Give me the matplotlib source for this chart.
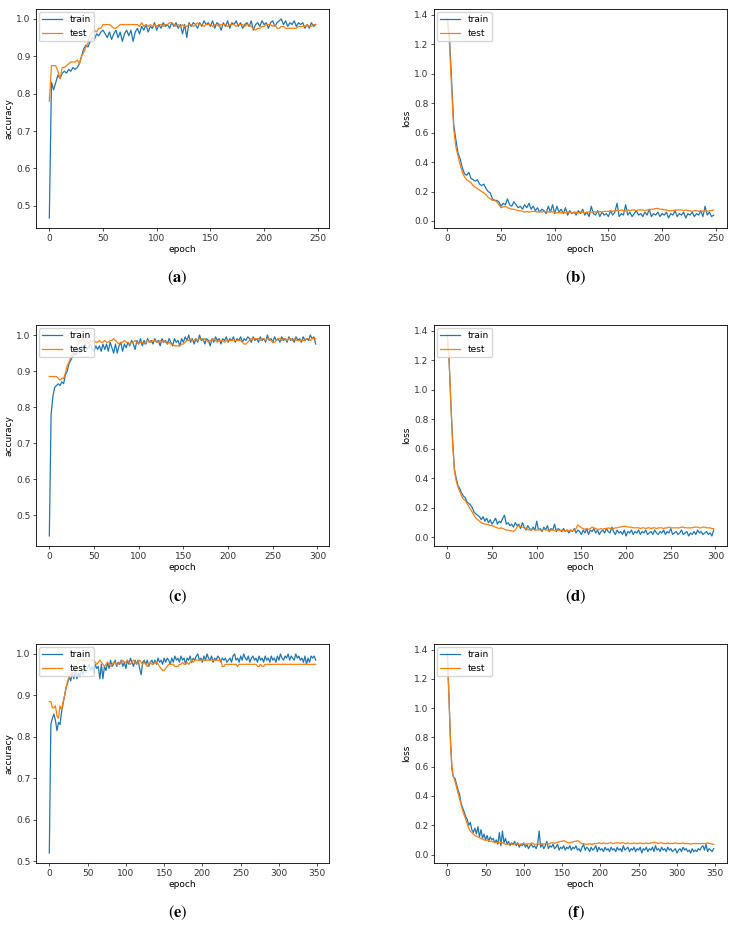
import numpy as np
import matplotlib
matplotlib.use("Agg")
import matplotlib.pyplot as plt

matplotlib.rcParams['font.size'] = 6.5
matplotlib.rcParams['axes.linewidth'] = 0.6
matplotlib.rcParams['xtick.major.width'] = 0.6
matplotlib.rcParams['ytick.major.width'] = 0.6
matplotlib.rcParams['xtick.major.size'] = 2.5
matplotlib.rcParams['ytick.major.size'] = 2.5
matplotlib.rcParams['mathtext.fontset'] = 'stix'

# values read every 2 epochs
acc_train_250 = [
    0.467, 0.83, 0.81, 0.83, 0.85, 0.84, 0.855, 0.86, 0.855, 0.865,
    0.86, 0.87, 0.865, 0.87, 0.88, 0.90, 0.92, 0.93, 0.925, 0.94,
    0.95, 0.945, 0.96, 0.955, 0.965, 0.97, 0.96, 0.95, 0.965, 0.945,
    0.96, 0.97, 0.95, 0.965, 0.94, 0.96, 0.97, 0.955, 0.97, 0.94,
    0.965, 0.975, 0.96, 0.98, 0.97, 0.985, 0.965, 0.98, 0.975, 0.99,
    0.97, 0.985, 0.975, 0.99, 0.98, 0.985, 0.975, 0.99, 0.98, 0.99,
    0.975, 0.985, 0.96, 0.985, 0.95, 0.99, 0.98, 0.99, 0.985, 0.975,
    0.99, 0.98, 0.995, 0.985, 0.99, 0.98, 0.995, 0.975, 0.99, 0.985,
    0.97, 0.99, 0.98, 0.995, 0.975, 0.99, 0.985, 0.995, 0.98, 0.99,
    0.975, 0.985, 0.99, 0.98, 0.995, 0.97, 0.985, 0.99, 0.98, 0.995,
    0.985, 0.99, 0.975, 0.99, 0.995, 0.98, 0.99, 0.995, 1.0, 0.985,
    0.995, 0.98, 0.99, 0.985, 0.995, 0.98, 0.99, 0.985, 0.99, 0.975,
    0.985, 0.975, 0.99, 0.98, 0.985]
acc_test_250 = [
    0.78, 0.875, 0.875, 0.875, 0.86, 0.84, 0.87, 0.87, 0.875, 0.88,
    0.885, 0.885, 0.885, 0.89, 0.88, 0.90, 0.91, 0.925, 0.935, 0.96,
    0.965, 0.97, 0.965, 0.975, 0.975, 0.985, 0.985, 0.985, 0.985, 0.98,
    0.975, 0.975, 0.98, 0.985, 0.985, 0.985, 0.985, 0.985, 0.985, 0.985,
    0.985, 0.985, 0.98, 0.99, 0.98, 0.985, 0.98, 0.985, 0.98, 0.985,
    0.98, 0.985, 0.985, 0.98, 0.985, 0.985, 0.99, 0.99, 0.985, 0.98,
    0.985, 0.98, 0.985, 0.98, 0.98, 0.985, 0.985, 0.98, 0.985, 0.99,
    0.985, 0.985, 0.98, 0.985, 0.985, 0.985, 0.98, 0.985, 0.985, 0.98,
    0.985, 0.985, 0.985, 0.98, 0.985, 0.985, 0.985, 0.98, 0.985, 0.985,
    0.985, 0.98, 0.985, 0.985, 0.98, 0.975, 0.97, 0.975, 0.975, 0.98,
    0.98, 0.985, 0.985, 0.985, 0.98, 0.985, 0.975, 0.975, 0.98, 0.98,
    0.975, 0.975, 0.975, 0.975, 0.975, 0.975, 0.98, 0.98, 0.98, 0.98,
    0.985, 0.98, 0.98, 0.985, 0.985]
loss_train_250 = [
    1.37, 1.25, 0.95, 0.65, 0.55, 0.46, 0.42, 0.36, 0.32, 0.31,
    0.33, 0.29, 0.28, 0.27, 0.28, 0.25, 0.24, 0.25, 0.22, 0.20,
    0.19, 0.15, 0.14, 0.14, 0.13, 0.10, 0.12, 0.11, 0.15, 0.11,
    0.10, 0.13, 0.11, 0.09, 0.10, 0.08, 0.11, 0.09, 0.12, 0.08,
    0.10, 0.07, 0.09, 0.06, 0.08, 0.07, 0.05, 0.10, 0.06, 0.11,
    0.05, 0.10, 0.06, 0.08, 0.05, 0.09, 0.04, 0.07, 0.05, 0.06,
    0.04, 0.07, 0.05, 0.08, 0.04, 0.06, 0.03, 0.10, 0.05, 0.04,
    0.07, 0.03, 0.06, 0.04, 0.05, 0.03, 0.07, 0.04, 0.06, 0.12,
    0.03, 0.05, 0.04, 0.11, 0.04, 0.06, 0.03, 0.05, 0.07, 0.04,
    0.05, 0.03, 0.06, 0.04, 0.08, 0.03, 0.05, 0.04, 0.06, 0.03,
    0.05, 0.04, 0.06, 0.02, 0.05, 0.04, 0.07, 0.03, 0.05, 0.04,
    0.06, 0.02, 0.05, 0.04, 0.06, 0.03, 0.05, 0.04, 0.07, 0.03,
    0.10, 0.04, 0.06, 0.03, 0.04]
loss_test_250 = [
    1.37, 1.20, 0.90, 0.62, 0.50, 0.44, 0.38, 0.33, 0.30, 0.28,
    0.27, 0.26, 0.24, 0.23, 0.22, 0.21, 0.20, 0.19, 0.18, 0.16,
    0.15, 0.14, 0.14, 0.13, 0.11, 0.09, 0.095, 0.10, 0.09, 0.085,
    0.08, 0.08, 0.075, 0.07, 0.07, 0.065, 0.06, 0.065, 0.06, 0.065,
    0.065, 0.065, 0.06, 0.065, 0.06, 0.065, 0.06, 0.06, 0.065, 0.06,
    0.06, 0.055, 0.06, 0.055, 0.06, 0.055, 0.06, 0.06, 0.055, 0.06,
    0.06, 0.055, 0.06, 0.06, 0.055, 0.06, 0.06, 0.06, 0.065, 0.06,
    0.06, 0.065, 0.06, 0.065, 0.065, 0.065, 0.07, 0.065, 0.07, 0.07,
    0.07, 0.075, 0.07, 0.07, 0.075, 0.07, 0.075, 0.075, 0.07, 0.075,
    0.075, 0.075, 0.07, 0.075, 0.075, 0.08, 0.08, 0.085, 0.085, 0.08,
    0.08, 0.075, 0.075, 0.07, 0.07, 0.07, 0.075, 0.075, 0.075, 0.075,
    0.07, 0.075, 0.07, 0.07, 0.065, 0.07, 0.07, 0.065, 0.07, 0.065,
    0.07, 0.065, 0.07, 0.07, 0.075]

acc_train_300 = [
    0.443, 0.78, 0.83, 0.855, 0.86, 0.865, 0.86, 0.87, 0.865, 0.89,
    0.90, 0.92, 0.93, 0.94, 0.95, 0.945, 0.96, 0.95, 0.97, 0.96,
    0.975, 0.96, 0.965, 0.975, 0.96, 0.955, 0.97, 0.96, 0.97, 0.955,
    0.975, 0.96, 0.975, 0.955, 0.98, 0.965, 0.95, 0.975, 0.95, 0.97,
    0.98, 0.955, 0.975, 0.965, 0.98, 0.97, 0.985, 0.975, 0.96, 0.985,
    0.975, 0.99, 0.97, 0.985, 0.975, 0.99, 0.98, 0.985, 0.975, 0.99,
    0.98, 0.985, 0.97, 0.99, 0.98, 0.985, 0.975, 0.99, 0.98, 0.97,
    0.99, 0.98, 0.985, 0.97, 0.99, 0.98, 0.995, 0.985, 1.0, 0.98,
    0.99, 0.975, 0.99, 0.98, 1.0, 0.985, 0.99, 0.975, 0.99, 0.985,
    0.97, 0.99, 0.98, 0.995, 0.985, 0.99, 0.975, 0.99, 0.985, 0.995,
    0.98, 0.99, 0.985, 0.995, 0.98, 0.99, 0.985, 0.995, 0.98, 0.99,
    0.985, 0.995, 0.99, 0.98, 0.995, 0.985, 0.99, 0.98, 0.995, 0.985,
    0.99, 0.98, 1.0, 0.985, 0.99, 0.98, 0.995, 0.985, 0.99, 0.98,
    0.995, 0.985, 0.99, 0.98, 0.995, 0.985, 0.99, 0.98, 0.995, 0.985,
    0.99, 0.98, 0.995, 0.985, 0.99, 0.985, 1.0, 0.99, 0.995, 0.975]
acc_test_300 = [
    0.885, 0.885, 0.885, 0.885, 0.885, 0.88, 0.875, 0.88, 0.88, 0.895,
    0.915, 0.925, 0.94, 0.95, 0.955, 0.965, 0.975, 0.985, 0.985, 0.99,
    0.98, 0.985, 0.975, 0.985, 0.98, 0.985, 0.98, 0.98, 0.985, 0.98,
    0.98, 0.985, 0.98, 0.98, 0.985, 0.985, 0.99, 0.985, 0.98, 0.975,
    0.98, 0.98, 0.985, 0.98, 0.98, 0.975, 0.98, 0.98, 0.985, 0.98,
    0.975, 0.98, 0.98, 0.975, 0.98, 0.985, 0.98, 0.98, 0.985, 0.985,
    0.98, 0.98, 0.985, 0.98, 0.985, 0.98, 0.975, 0.98, 0.975, 0.975,
    0.97, 0.97, 0.97, 0.97, 0.975, 0.975, 0.98, 0.985, 0.985, 0.99,
    0.985, 0.985, 0.99, 0.985, 0.99, 0.99, 0.985, 0.99, 0.985, 0.98,
    0.985, 0.985, 0.99, 0.985, 0.98, 0.985, 0.985, 0.985, 0.98, 0.985,
    0.985, 0.985, 0.985, 0.985, 0.985, 0.985, 0.985, 0.985, 0.98, 0.975,
    0.975, 0.98, 0.985, 0.99, 0.99, 0.99, 0.99, 0.99, 0.985, 0.99,
    0.99, 0.985, 0.99, 0.99, 0.985, 0.98, 0.98, 0.985, 0.99, 0.99,
    0.985, 0.99, 0.99, 0.985, 0.99, 0.99, 0.985, 0.99, 0.985, 0.985,
    0.985, 0.985, 0.985, 0.985, 0.99, 0.99, 0.985, 0.99, 0.99, 0.99]
loss_train_300 = [
    1.37, 1.2, 0.9, 0.65, 0.46, 0.40, 0.35, 0.33, 0.30, 0.28,
    0.27, 0.24, 0.23, 0.22, 0.20, 0.17, 0.16, 0.15, 0.14, 0.12,
    0.14, 0.11, 0.13, 0.10, 0.12, 0.09, 0.11, 0.13, 0.09, 0.11,
    0.10, 0.13, 0.15, 0.09, 0.10, 0.08, 0.09, 0.07, 0.10, 0.08,
    0.09, 0.06, 0.10, 0.07, 0.05, 0.08, 0.06, 0.05, 0.07, 0.05,
    0.11, 0.05, 0.06, 0.04, 0.07, 0.05, 0.08, 0.04, 0.06, 0.05,
    0.09, 0.04, 0.06, 0.05, 0.04, 0.06, 0.04, 0.05, 0.03, 0.05,
    0.04, 0.06, 0.03, 0.05, 0.04, 0.02, 0.05, 0.03, 0.06, 0.02,
    0.05, 0.04, 0.06, 0.03, 0.05, 0.02, 0.04, 0.05, 0.03, 0.06,
    0.04, 0.03, 0.07, 0.04, 0.02, 0.05, 0.03, 0.04, 0.02, 0.05,
    0.01, 0.04, 0.03, 0.05, 0.02, 0.04, 0.03, 0.05, 0.02, 0.04,
    0.03, 0.05, 0.02, 0.03, 0.04, 0.02, 0.05, 0.03, 0.02, 0.04,
    0.03, 0.05, 0.02, 0.04, 0.03, 0.06, 0.02, 0.03, 0.04, 0.02,
    0.03, 0.05, 0.02, 0.03, 0.04, 0.01, 0.03, 0.02, 0.04, 0.02,
    0.05, 0.03, 0.04, 0.02, 0.03, 0.04, 0.02, 0.03, 0.01, 0.05]
loss_test_300 = [
    1.37, 1.2, 0.9, 0.62, 0.45, 0.38, 0.34, 0.31, 0.28, 0.26,
    0.25, 0.23, 0.21, 0.19, 0.17, 0.15, 0.13, 0.12, 0.11, 0.10,
    0.095, 0.09, 0.09, 0.085, 0.08, 0.08, 0.075, 0.07, 0.065, 0.06,
    0.065, 0.06, 0.055, 0.05, 0.05, 0.045, 0.045, 0.04, 0.05, 0.07,
    0.08, 0.075, 0.07, 0.065, 0.06, 0.055, 0.05, 0.05, 0.055, 0.05,
    0.05, 0.055, 0.05, 0.05, 0.055, 0.05, 0.05, 0.045, 0.05, 0.05,
    0.045, 0.05, 0.05, 0.045, 0.05, 0.045, 0.045, 0.05, 0.045, 0.05,
    0.045, 0.05, 0.06, 0.085, 0.075, 0.065, 0.06, 0.055, 0.06, 0.055,
    0.06, 0.07, 0.065, 0.06, 0.055, 0.055, 0.06, 0.055, 0.06, 0.06,
    0.065, 0.06, 0.065, 0.06, 0.065, 0.065, 0.07, 0.07, 0.075, 0.075,
    0.075, 0.07, 0.07, 0.07, 0.065, 0.065, 0.065, 0.065, 0.06, 0.065,
    0.065, 0.06, 0.065, 0.065, 0.06, 0.065, 0.065, 0.06, 0.065, 0.065,
    0.065, 0.06, 0.065, 0.065, 0.07, 0.065, 0.065, 0.065, 0.065, 0.065,
    0.065, 0.07, 0.07, 0.065, 0.065, 0.065, 0.065, 0.065, 0.07, 0.07,
    0.07, 0.065, 0.065, 0.07, 0.07, 0.065, 0.065, 0.065, 0.06, 0.06]

acc_train_350 = [
    0.52, 0.83, 0.845, 0.855, 0.84, 0.815, 0.835, 0.83, 0.86, 0.88,
    0.90, 0.92, 0.93, 0.945, 0.935, 0.955, 0.94, 0.96, 0.94, 0.955,
    0.945, 0.965, 0.95, 0.97, 0.955, 0.965, 0.975, 0.96, 0.97, 0.955,
    0.975, 0.965, 0.97, 0.94, 0.975, 0.94, 0.97, 0.96, 0.98, 0.965,
    0.985, 0.97, 0.975, 0.985, 0.97, 0.98, 0.975, 0.985, 0.97, 0.98,
    0.965, 0.985, 0.975, 0.99, 0.98, 0.97, 0.985, 0.975, 0.985, 0.965,
    0.95, 0.98, 0.985, 0.975, 0.985, 0.97, 0.98, 0.985, 0.975, 0.985,
    0.975, 0.99, 0.98, 0.985, 0.975, 0.99, 0.98, 0.99, 0.985, 0.975,
    0.99, 0.98, 0.995, 0.985, 0.99, 0.98, 0.995, 0.985, 0.99, 0.975,
    0.99, 0.985, 0.995, 0.98, 0.99, 0.985, 0.995, 1.0, 0.985, 0.99,
    0.98, 0.995, 0.985, 1.0, 0.99, 0.985, 0.995, 0.98, 0.99, 0.985,
    0.995, 0.99, 0.98, 0.99, 0.985, 0.99, 0.98, 0.985, 0.99, 0.98,
    0.995, 1.0, 0.985, 0.99, 0.98, 0.995, 0.985, 1.0, 0.99, 0.985,
    0.995, 0.98, 0.99, 0.995, 0.985, 0.99, 0.98, 0.995, 0.985, 0.99,
    0.98, 0.995, 0.985, 0.99, 0.98, 0.995, 0.985, 0.99, 0.98, 0.995,
    0.985, 1.0, 0.99, 0.985, 0.995, 0.99, 1.0, 0.985, 0.995, 0.99,
    0.985, 1.0, 0.99, 0.995, 0.985, 0.99, 0.98, 0.995, 0.975, 0.99,
    0.98, 0.995, 0.99, 0.995, 0.985]
acc_test_350 = [
    0.885, 0.885, 0.87, 0.87, 0.875, 0.85, 0.845, 0.875, 0.865, 0.885,
    0.90, 0.92, 0.935, 0.945, 0.95, 0.955, 0.955, 0.96, 0.975, 0.985,
    0.985, 0.985, 0.985, 0.985, 0.985, 0.985, 0.985, 0.985, 0.985, 0.985,
    0.98, 0.975, 0.98, 0.985, 0.98, 0.975, 0.97, 0.975, 0.98, 0.975,
    0.97, 0.975, 0.98, 0.98, 0.975, 0.975, 0.98, 0.98, 0.985, 0.98,
    0.98, 0.985, 0.98, 0.975, 0.98, 0.985, 0.98, 0.975, 0.98, 0.985,
    0.98, 0.975, 0.98, 0.975, 0.97, 0.975, 0.98, 0.975, 0.975, 0.98,
    0.98, 0.975, 0.97, 0.965, 0.96, 0.96, 0.965, 0.97, 0.975, 0.975,
    0.975, 0.975, 0.97, 0.97, 0.97, 0.975, 0.975, 0.98, 0.975, 0.975,
    0.98, 0.975, 0.98, 0.985, 0.98, 0.985, 0.985, 0.985, 0.985, 0.985,
    0.985, 0.985, 0.985, 0.985, 0.985, 0.985, 0.985, 0.985, 0.985, 0.985,
    0.985, 0.985, 0.985, 0.97, 0.97, 0.975, 0.975, 0.975, 0.975, 0.975,
    0.975, 0.975, 0.975, 0.97, 0.975, 0.975, 0.975, 0.975, 0.975, 0.975,
    0.975, 0.975, 0.975, 0.975, 0.975, 0.975, 0.97, 0.97, 0.975, 0.97,
    0.97, 0.975, 0.975, 0.975, 0.975, 0.975, 0.975, 0.975, 0.975, 0.975,
    0.975, 0.975, 0.975, 0.975, 0.975, 0.975, 0.975, 0.975, 0.975, 0.975,
    0.975, 0.975, 0.975, 0.975, 0.975, 0.975, 0.975, 0.975, 0.975, 0.975,
    0.975, 0.975, 0.975, 0.975, 0.975]
loss_train_350 = [
    1.37, 1.1, 0.8, 0.58, 0.53, 0.52, 0.48, 0.44, 0.41, 0.35,
    0.32, 0.29, 0.26, 0.24, 0.20, 0.22, 0.17, 0.15, 0.18, 0.14,
    0.19, 0.12, 0.17, 0.11, 0.14, 0.10, 0.13, 0.09, 0.12, 0.10,
    0.11, 0.08, 0.10, 0.07, 0.15, 0.06, 0.16, 0.08, 0.11, 0.07,
    0.09, 0.06, 0.08, 0.07, 0.09, 0.06, 0.08, 0.05, 0.07, 0.06,
    0.08, 0.05, 0.07, 0.04, 0.06, 0.07, 0.05, 0.06, 0.04, 0.07,
    0.16, 0.05, 0.07, 0.04, 0.06, 0.09, 0.04, 0.06, 0.05, 0.07,
    0.04, 0.05, 0.07, 0.03, 0.05, 0.04, 0.06, 0.03, 0.05, 0.04,
    0.06, 0.03, 0.05, 0.04, 0.06, 0.03, 0.04, 0.02, 0.05, 0.07,
    0.03, 0.05, 0.04, 0.02, 0.05, 0.03, 0.04, 0.06, 0.02, 0.05,
    0.03, 0.04, 0.02, 0.05, 0.03, 0.04, 0.02, 0.05, 0.03, 0.04,
    0.02, 0.05, 0.03, 0.04, 0.02, 0.06, 0.03, 0.04, 0.05, 0.02,
    0.04, 0.03, 0.05, 0.02, 0.04, 0.03, 0.05, 0.01, 0.04, 0.03,
    0.05, 0.02, 0.04, 0.03, 0.05, 0.02, 0.06, 0.03, 0.04, 0.02,
    0.05, 0.03, 0.04, 0.02, 0.05, 0.03, 0.04, 0.02, 0.03, 0.04,
    0.01, 0.03, 0.04, 0.02, 0.05, 0.03, 0.04, 0.02, 0.03, 0.01,
    0.04, 0.02, 0.03, 0.02, 0.04, 0.03, 0.05, 0.06, 0.03, 0.07,
    0.02, 0.04, 0.03, 0.02, 0.04]
loss_test_350 = [
    1.37, 1.1, 0.78, 0.6, 0.53, 0.50, 0.46, 0.42, 0.38, 0.34,
    0.30, 0.27, 0.24, 0.21, 0.18, 0.16, 0.15, 0.14, 0.13, 0.125,
    0.12, 0.115, 0.11, 0.105, 0.10, 0.095, 0.10, 0.095, 0.09, 0.09,
    0.085, 0.085, 0.08, 0.08, 0.08, 0.085, 0.08, 0.075, 0.07, 0.07,
    0.07, 0.075, 0.07, 0.07, 0.07, 0.075, 0.07, 0.07, 0.07, 0.075,
    0.075, 0.07, 0.07, 0.075, 0.07, 0.08, 0.075, 0.07, 0.07, 0.075,
    0.07, 0.07, 0.075, 0.07, 0.075, 0.075, 0.07, 0.075, 0.08, 0.08,
    0.075, 0.08, 0.085, 0.085, 0.09, 0.09, 0.095, 0.09, 0.085, 0.08,
    0.08, 0.085, 0.085, 0.09, 0.09, 0.095, 0.09, 0.08, 0.075, 0.075,
    0.07, 0.07, 0.07, 0.075, 0.07, 0.07, 0.075, 0.075, 0.075, 0.08,
    0.075, 0.075, 0.08, 0.075, 0.075, 0.075, 0.08, 0.08, 0.075, 0.075,
    0.08, 0.08, 0.08, 0.075, 0.08, 0.08, 0.075, 0.075, 0.08, 0.075,
    0.075, 0.075, 0.08, 0.075, 0.075, 0.075, 0.08, 0.075, 0.075, 0.075,
    0.08, 0.075, 0.075, 0.08, 0.08, 0.085, 0.08, 0.08, 0.075, 0.08,
    0.08, 0.075, 0.075, 0.075, 0.08, 0.075, 0.075, 0.075, 0.075, 0.08,
    0.075, 0.075, 0.075, 0.075, 0.08, 0.075, 0.075, 0.075, 0.075, 0.07,
    0.075, 0.075, 0.075, 0.075, 0.075, 0.075, 0.075, 0.075, 0.075, 0.075,
    0.08, 0.075, 0.075, 0.07, 0.07]

panels = [
    ('a', acc_train_250, acc_test_250, 'accuracy'),
    ('b', loss_train_250, loss_test_250, 'loss'),
    ('c', acc_train_300, acc_test_300, 'accuracy'),
    ('d', loss_train_300, loss_test_300, 'loss'),
    ('e', acc_train_350, acc_test_350, 'accuracy'),
    ('f', loss_train_350, loss_test_350, 'loss'),
]

W, H = 734, 925
fig = plt.figure(figsize=(W / 100, H / 100), dpi=100)

# axes boxes in pixels: left, top, right, bottom
lefts = [36, 434]
rows = [(9, 228, 278), (325, 546, 597), (644, 863, 913)]

for i, (tag, train, test, ylab) in enumerate(panels):
    r, c = divmod(i, 2)
    top, bot, lab_y = rows[r]
    left = lefts[c]
    right = left + 293
    ax = fig.add_axes([left / W, (H - bot) / H, (right - left) / W, (bot - top) / H])
    x_tr = np.arange(len(train)) * 2
    x_te = np.arange(len(test)) * 2
    ax.plot(x_tr, train, color='C0', lw=0.9, label='train')
    ax.plot(x_te, test, color='C1', lw=0.9, label='test')
    ax.set_xlabel('epoch', labelpad=1.5)
    ax.set_ylabel(ylab, labelpad=2)
    ax.tick_params(pad=1.5, colors='#333333')
    ax.legend(loc='upper left', fontsize=6.5, borderaxespad=0.3, handlelength=2.2)
    fig.text(((left + right) / 2 - 5) / W, (H - lab_y) / H,
             r'$(\mathbf{' + tag + '})$', ha='center', va='center', fontsize=12)

fig.savefig('out.png', dpi=100)
